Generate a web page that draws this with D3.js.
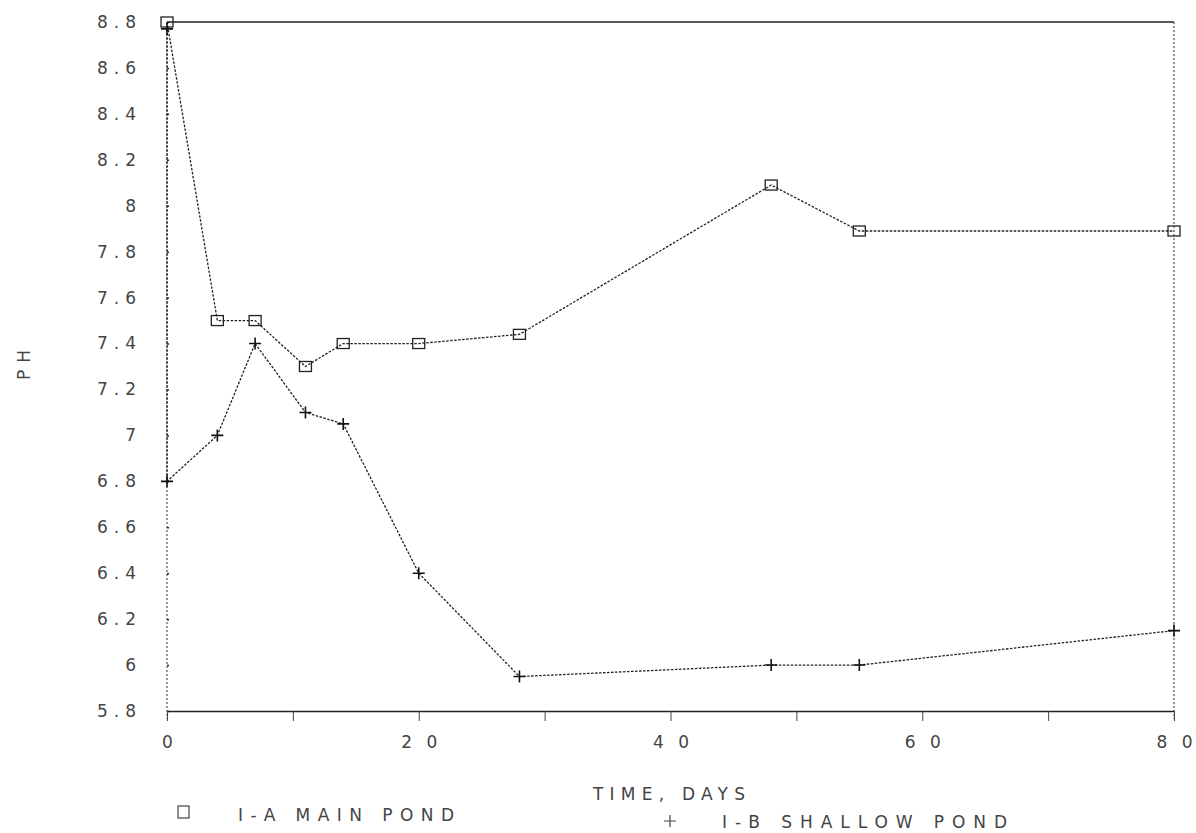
<!DOCTYPE html>
<html>
<head>
<meta charset="utf-8">
<script src="https://cdn.jsdelivr.net/npm/d3@7"></script>
<style>
  html, body { margin: 0; padding: 0; background: #fff; }
  svg text { font-family: "DejaVu Sans", "Liberation Sans", sans-serif; fill: #444; }
</style>
</head>
<body>
<svg id="chart" width="1196" height="833"></svg>
<script>
// days
const days = [0, 4, 7, 11, 14, 20, 28, 48, 55, 80]
// pH, I-A main pond
const mainPond = [8.8, 7.5, 7.5, 7.3, 7.4, 7.4, 7.44, 8.09, 7.89, 7.89]
// pH, I-B shallow pond (day 0 shows up twice on the original)
const shallowDays = [0, 0, 4, 7, 11, 14, 20, 28, 48, 55, 80]
const shallowPond = [8.77, 6.8, 7.0, 7.4, 7.1, 7.05, 6.4, 5.95, 6.0, 6.0, 6.15]

const yTicks = [5.8, 6, 6.2, 6.4, 6.6, 6.8, 7, 7.2, 7.4, 7.6, 7.8, 8, 8.2, 8.4, 8.6, 8.8]
const xTicks = [0, 10, 20, 30, 40, 50, 60, 70, 80]
const xLabels = [0, 20, 40, 60, 80]

const margin = { left: 167, right: 22, top: 22, bottom: 122 }
const W = 1196, H = 833
const width = W - margin.left - margin.right
const height = H - margin.top - margin.bottom

const svg = d3.select('#chart')
const g = svg.append('g').attr('transform', `translate(${margin.left},${margin.top})`)

const x = d3.scaleLinear().domain([0, 80]).range([0, width])
const y = d3.scaleLinear().domain([5.8, 8.8]).range([height, 0])

// frame: solid top, dotted sides
g.append('line').attr('x1', 0).attr('x2', width).attr('y1', 0).attr('y2', 0)
  .attr('stroke', '#222').attr('stroke-width', 1.6)
g.append('line').attr('x1', width).attr('x2', width).attr('y1', 0).attr('y2', height + 8)
  .attr('stroke', '#555').attr('stroke-width', 1.2).attr('stroke-dasharray', '2,2')
g.append('line').attr('x1', 0).attr('x2', 0).attr('y1', 0).attr('y2', height + 8)
  .attr('stroke', '#555').attr('stroke-width', 1.2).attr('stroke-dasharray', '2,2')

// y axis
const yLs = 6
const yAxis = g.append('g')
  .call(d3.axisLeft(y).tickValues(yTicks).tickSizeInner(15).tickSizeOuter(0).tickPadding(16 - yLs)
    .tickFormat(d => String(+d.toFixed(1))))
yAxis.select('.domain').remove()
yAxis.selectAll('.tick line').attr('x2', 2).attr('stroke', '#222').attr('stroke-width', 1.5)
yAxis.selectAll('.tick text').attr('font-size', 17).attr('fill', '#444')
  .attr('letter-spacing', yLs)
  .style('font-family', '"DejaVu Sans", sans-serif')

// x axis
const xAxis = g.append('g').attr('transform', `translate(0,${height})`)
  .call(d3.axisBottom(x).tickValues(xTicks).tickSizeInner(10).tickSizeOuter(0).tickPadding(15)
    .tickFormat(d => xLabels.includes(d) ? String(d) : ''))
xAxis.select('.domain').attr('stroke', '#222').attr('stroke-width', 1.6)
xAxis.selectAll('.tick line').attr('stroke', '#444').attr('stroke-width', 1)
xAxis.selectAll('.tick text').attr('font-size', 17).attr('fill', '#444')
  .each(function (d) {
    // spread the digits like the plotter font, without trailing space
    const t = d3.select(this)
    if (String(d).length > 1) t.attr('textLength', 36).attr('lengthAdjust', 'spacing')
  })
  .style('font-family', '"DejaVu Sans", sans-serif')

// axis titles
svg.append('text').attr('x', 593).attr('y', 800)
  .attr('font-size', 17).attr('textLength', 152).attr('lengthAdjust', 'spacing').text('TIME, DAYS')
svg.append('text').attr('transform', 'translate(30,380) rotate(-90)')
  .attr('font-size', 17).attr('textLength', 30).attr('lengthAdjust', 'spacing').text('PH')

// lines
const line = d3.line().x(d => x(d[0])).y(d => y(d[1]))
const mainData = days.map((d, i) => [d, mainPond[i]])
const shallowData = shallowDays.map((d, i) => [d, shallowPond[i]])

g.append('path').datum(mainData).attr('d', line).attr('fill', 'none')
  .attr('stroke', '#222').attr('stroke-width', 1.3).attr('stroke-dasharray', '2.5,1.5')
g.append('path').datum(shallowData).attr('d', line).attr('fill', 'none')
  .attr('stroke', '#222').attr('stroke-width', 1.3).attr('stroke-dasharray', '2.5,1.5')

// markers
g.selectAll('.sq').data(mainData).enter().append('rect').attr('class', 'sq')
  .attr('x', d => x(d[0]) - 6).attr('y', d => y(d[1]) - 5)
  .attr('width', 12).attr('height', 10)
  .attr('fill', 'none').attr('stroke', '#222').attr('stroke-width', 1.3)

g.selectAll('.pl').data(shallowData).enter().append('path').attr('class', 'pl')
  .attr('transform', d => `translate(${x(d[0])},${y(d[1])})`)
  .attr('d', 'M-6,0H6M0,-6V6')
  .attr('stroke', '#111').attr('stroke-width', 1.6)

// legend
const lg = svg.append('g')
lg.append('rect').attr('x', 178).attr('y', 806).attr('width', 11).attr('height', 12)
  .attr('fill', 'none').attr('stroke', '#444').attr('stroke-width', 1.2)
lg.append('text').attr('x', 238).attr('y', 821).attr('font-size', 17)
  .attr('textLength', 216).attr('lengthAdjust', 'spacing').text('I-A MAIN POND')
lg.append('path').attr('d', 'M664,821H676M670,815V827').attr('stroke', '#444').attr('stroke-width', 1.2)
lg.append('text').attr('x', 722).attr('y', 828).attr('font-size', 17)
  .attr('textLength', 285).attr('lengthAdjust', 'spacing').text('I-B SHALLOW POND')
</script>
</body>
</html>
